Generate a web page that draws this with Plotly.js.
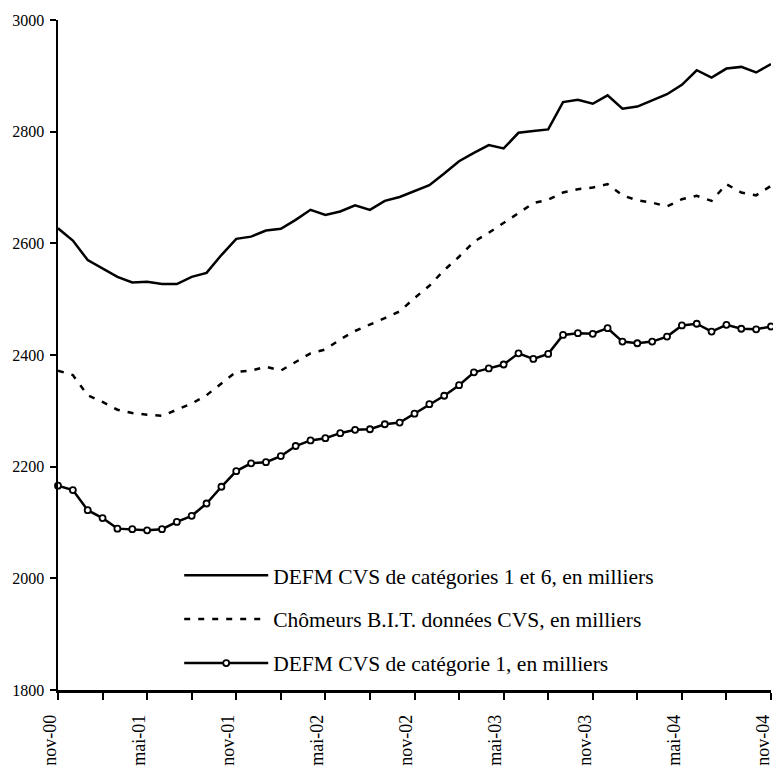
<!DOCTYPE html>
<html>
<head>
<meta charset="utf-8">
<script src="https://cdn.plot.ly/plotly-3.0.1.min.js"></script>
<style>html,body{margin:0;padding:0;background:#fff;}#chart{width:773px;height:769px;}</style>
</head>
<body>
<div id="chart"></div>
<script>
const months = ["nov-00","déc-00","janv-01","févr-01","mars-01","avr-01","mai-01","juin-01","juil-01","août-01","sept-01","oct-01",
"nov-01","déc-01","janv-02","févr-02","mars-02","avr-02","mai-02","juin-02","juil-02","août-02","sept-02","oct-02",
"nov-02","déc-02","janv-03","févr-03","mars-03","avr-03","mai-03","juin-03","juil-03","août-03","sept-03","oct-03",
"nov-03","déc-03","janv-04","févr-04","mars-04","avr-04","mai-04","juin-04","juil-04","août-04","sept-04","oct-04","nov-04"];

const defmCat16 = [2627,2605,2570,2555,2540,2530,2531,2527,2527,2540,2547,2579,2608,2612,2623,2626,2642,2660,2651,2657,
2668,2660,2676,2683,2694,2704,2725,2747,2762,2776,2770,2798,2801,2804,2853,2857,2850,2865,2841,2845,
2856,2867,2884,2910,2897,2913,2916,2906,2921];

const chomeursBIT = [2372,2364,2328,2316,2302,2296,2293,2291,2302,2313,2328,2349,2370,2372,2379,2372,2387,2403,2410,2428,
2443,2454,2466,2478,2502,2524,2552,2576,2603,2619,2636,2654,2672,2678,2691,2697,2700,2706,2686,2677,
2673,2666,2679,2685,2676,2706,2691,2686,2703];

const defmCat1 = [2166,2158,2122,2108,2089,2088,2086,2088,2101,2112,2134,2164,2192,2206,2208,2219,2237,2247,2251,2260,
2266,2267,2276,2279,2295,2312,2327,2346,2369,2376,2383,2403,2393,2402,2436,2439,2438,2448,2424,2421,
2424,2433,2453,2456,2442,2454,2447,2446,2451];

const seriesNames = ["DEFM CVS de catégories 1 et 6, en milliers","Chômeurs B.I.T. données CVS, en milliers","DEFM CVS de catégorie 1, en milliers"];
const labelMonths = ["nov-00","mai-01","nov-01","mai-02","nov-02","mai-03","nov-03","mai-04","nov-04"];
const yTicks = [1800,2000,2200,2400,2600,2800,3000];

const tickVals = months.filter((m, i) => i % 3 === 0);
const tickText = tickVals.map(m => labelMonths.includes(m) ? m : "");

const font = "Liberation Serif";

const traces = [
  {x: months, y: defmCat16, name: seriesNames[0], type: "scatter", mode: "lines",
   line: {color: "#000", width: 2.5}, legendgroup: "a"},
  {x: months, y: chomeursBIT, name: seriesNames[1], type: "scatter", mode: "lines",
   line: {color: "#000", width: 2.5, dash: "6px,8px"}, legendgroup: "b"},
  {x: months, y: defmCat1, name: seriesNames[2], type: "scatter", mode: "lines+markers",
   line: {color: "#000", width: 2.5}, marker: {symbol: "circle", size: 6, color: "#fff", line: {color: "#000", width: 1.8}},
   cliponaxis: false, legendgroup: "c"}
];

const layout = {
  width: 773, height: 769,
  margin: {l: 58, r: 2, t: 20, b: 79},
  paper_bgcolor: "#fff", plot_bgcolor: "#fff",
  font: {family: font, color: "#000", size: 16},
  showlegend: true,
  legend: {x: 0.17, y: 0.202, xanchor: "left", yanchor: "top", bgcolor: "rgba(0,0,0,0)",
           font: {family: font, size: 21.5, color: "#000"}, traceorder: "grouped", tracegroupgap: 13, itemwidth: 84},
  xaxis: {type: "category", range: [0, 48], tickmode: "array", tickvals: tickVals, ticktext: tickText,
          tickangle: -90, ticks: "outside", ticklen: 7, tickwidth: 2, tickcolor: "#000",
          showline: true, linecolor: "#000", linewidth: 2.5, showgrid: false, zeroline: false,
          tickfont: {family: font, size: 18, color: "#000"}, ticklabelstandoff: 8, ticklabelshift: -8},
  yaxis: {range: [1800, 3000], tickmode: "array", tickvals: yTicks, ticks: "outside", ticklen: 6,
          tickwidth: 2, tickcolor: "#000", showline: true, linecolor: "#000", linewidth: 2.5,
          showgrid: false, zeroline: false, tickfont: {family: font, size: 16, color: "#000"}, ticklabelstandoff: 2},
  yaxis2: {range: [1800, 3000], overlaying: "y", side: "left", tickmode: "array", tickvals: yTicks,
           ticks: "inside", ticklen: 5, tickwidth: 2, tickcolor: "#000", showticklabels: false,
           showline: false, showgrid: false, zeroline: false}
};

Plotly.newPlot("chart", traces, layout, {displayModeBar: false, staticPlot: true});
</script>
</body>
</html>
